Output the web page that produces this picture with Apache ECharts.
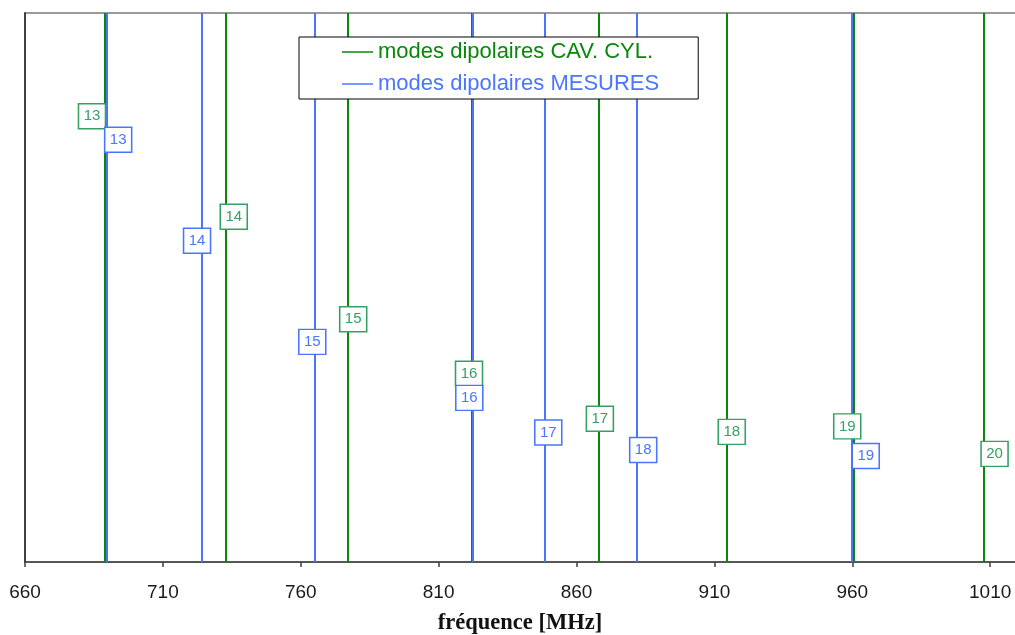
<!DOCTYPE html>
<html>
<head>
<meta charset="utf-8">
<script src="https://cdn.jsdelivr.net/npm/echarts@6/dist/echarts.min.js"></script>
<style>
  html, body { margin: 0; padding: 0; background: #fff; }
  #chart { width: 1015px; height: 635px; }
</style>
</head>
<body>
<div id="chart"></div>
<script>
// Dipole mode frequencies (MHz): cylindrical cavity model vs. measurements
const cavModes = [13, 14, 15, 16, 17, 18, 19, 20];
const cavFreq = [689.0, 732.8, 777.2, 822.1, 868.1, 914.3, 960.7, 1007.6];
const cavLabelHeight = [81.2, 62.9, 44.2, 34.3, 26.1, 23.7, 24.7, 19.7];

const mesModes = [13, 14, 15, 16, 17, 18, 19];
const mesFreq = [689.8, 724.2, 764.9, 822.2, 848.3, 882.0, 959.8];
const mesLabelHeight = [76.9, 58.5, 40.1, 29.9, 23.6, 20.4, 19.3];

// horizontal nudges (px) that keep neighbouring mode tags apart
const cavLabelShift = [-13, 8, 5, -3, 1, 5.5, -7, 11];
const mesLabelShift = [11, -5, -2, -3, 4, 6, 14];

const xTicks = [660, 710, 760, 810, 860, 910, 960, 1010];

const CAV_NAME = 'modes dipolaires CAV. CYL.';
const MES_NAME = 'modes dipolaires MESURES';

const GREEN = '#0a870a';
const GREEN_TAG = '#36a062';
const BLUE = '#4a76ff';

// vertical line at each mode frequency
function lineSeries(name, freqs, color, z) {
  return {
    name: name,
    type: 'line',
    z: z,
    data: [],
    markLine: {
      silent: true,
      symbol: 'none',
      z: z,
      label: { show: false },
      lineStyle: { color: color, width: 2, type: 'solid' },
      emphasis: { disabled: true },
      data: freqs.map(f => ({ xAxis: f }))
    }
  };
}

// boxed mode number next to each line
function tagSeries(name, freqs, heights, modes, shifts, color, z) {
  return {
    name: name,
    type: 'scatter',
    z: z,
    symbol: 'rect',
    symbolSize: [27, 25],
    itemStyle: { color: '#ffffff', borderColor: color, borderWidth: 1.5, opacity: 1 },
    data: freqs.map((f, i) => ({
      value: [f, heights[i], modes[i]],
      symbolOffset: [shifts[i], 0]
    })),
    label: {
      show: true,
      position: 'inside',
      formatter: p => String(p.value[2]),
      fontFamily: 'Arial, "Liberation Sans", sans-serif',
      fontSize: 15,
      color: color
    },
    emphasis: { disabled: true }
  };
}

const chart = echarts.init(document.getElementById('chart'), null, { renderer: 'canvas' });
chart.setOption({
  animation: false,
  backgroundColor: '#fff',
  grid: { left: 25, right: 0, top: 13, bottom: 73, containLabel: false, outerBoundsMode: 'none' },
  legend: {
    orient: 'vertical',
    left: 299,
    top: 37,
    padding: [4, 39, 4, 43],
    itemGap: 10,
    itemWidth: 31,
    itemHeight: 1.5,
    backgroundColor: '#fff',
    borderColor: '#000',
    borderWidth: 1,
    selectedMode: false,
    textStyle: {
      fontFamily: 'Arial, "Liberation Sans", sans-serif',
      fontSize: 22,
      lineHeight: 22
    },
    data: [
      { name: CAV_NAME, icon: 'rect', itemStyle: { color: GREEN }, textStyle: { color: GREEN } },
      { name: MES_NAME, icon: 'rect', itemStyle: { color: BLUE }, textStyle: { color: BLUE } }
    ]
  },
  xAxis: {
    type: 'value',
    min: 660,
    max: 1019,
    interval: 50,
    name: 'fréquence [MHz]',
    nameLocation: 'middle',
    nameGap: 50,
    nameTextStyle: {
      fontFamily: '"Liberation Serif", "DejaVu Serif", serif',
      fontWeight: 'bold',
      fontSize: 22.5,
      color: '#111'
    },
    axisLine: { show: true, lineStyle: { color: '#404040', width: 1.5 } },
    axisTick: { show: true, length: 5, lineStyle: { color: '#404040', width: 1.5 },
      customValues: xTicks },
    axisLabel: {
      customValues: xTicks,
      formatter: v => String(v),
      margin: 21,
      fontFamily: 'Arial, "Liberation Sans", sans-serif',
      fontSize: 19,
      color: '#1a1a1a'
    },
    splitLine: { show: false }
  },
  yAxis: {
    type: 'value',
    min: 0,
    max: 100,
    interval: 100,
    axisLine: { show: true, lineStyle: { color: '#404040', width: 2 } },
    axisTick: { show: false },
    axisLabel: { show: false },
    splitLine: { show: true, lineStyle: { color: '#9a9a9a', width: 2 } }
  },
  series: [
    lineSeries(CAV_NAME, cavFreq, GREEN, 2),
    lineSeries(MES_NAME, mesFreq, BLUE, 3),
    tagSeries('cav-tags', cavFreq, cavLabelHeight, cavModes, cavLabelShift, GREEN_TAG, 10),
    tagSeries('mes-tags', mesFreq, mesLabelHeight, mesModes, mesLabelShift, BLUE, 11)
  ]
});
</script>
</body>
</html>
